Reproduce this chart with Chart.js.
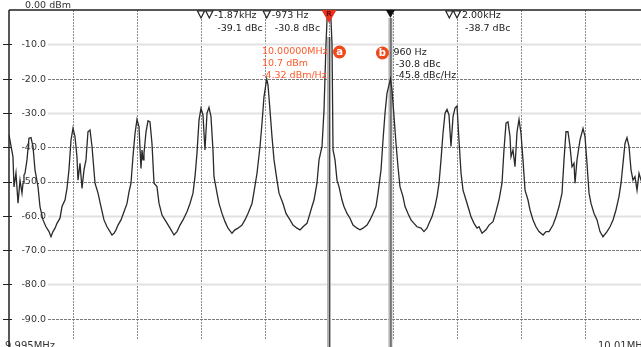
<!DOCTYPE html>
<html>
<head>
<meta charset="utf-8">
<script src="https://cdn.jsdelivr.net/npm/chart.js@4.4.1/dist/chart.umd.min.js"></script>
<style>
  html, body { margin: 0; padding: 0; background: #fff; overflow: hidden; }
  canvas { display: block; }
</style>
</head>
<body>
<canvas id="spectrum" width="650" height="356"></canvas>
<script>
// offset from the 10 MHz carrier (Hz) and trace level (dBm)
const freqOffsets = [
  -5000, -4938, -4922, -4891, -4859, -4828, -4797, -4781, -4766, -4750,
  -4719, -4688, -4656, -4625, -4594, -4547, -4516, -4469, -4422, -4375,
  -4344, -4313, -4281, -4250, -4203, -4172, -4125, -4094, -4063, -4031,
  -4000, -3969, -3938, -3922, -3891, -3859, -3828, -3797, -3766, -3734,
  -3703, -3656, -3609, -3563, -3516, -3469, -3422, -3391, -3359, -3328,
  -3297, -3250, -3203, -3156, -3125, -3094, -3063, -3031, -3000, -2969,
  -2938, -2922, -2906, -2891, -2859, -2828, -2797, -2766, -2734, -2688,
  -2656, -2609, -2563, -2484, -2422, -2375, -2328, -2281, -2219, -2172,
  -2125, -2094, -2063, -2031, -2000, -1969, -1938, -1906, -1875, -1844,
  -1813, -1797, -1750, -1719, -1672, -1625, -1578, -1516, -1469, -1422,
  -1359, -1313, -1266, -1203, -1172, -1125, -1078, -1047, -1016, -973,
  -953, -922, -891, -859, -813, -781, -719, -672, -609, -563,
  -500, -453, -406, -344, -313, -266, -234, -188, -156, -109,
  -78, -47, 0, 47, 63, 94, 125, 156, 203, 234,
  281, 328, 375, 438, 484, 531, 594, 641, 688, 734,
  766, 813, 844, 875, 906, 960, 984, 1016, 1047, 1078,
  1109, 1156, 1188, 1234, 1281, 1328, 1375, 1438, 1484, 1531,
  1563, 1609, 1656, 1688, 1719, 1750, 1781, 1813, 1844, 1875,
  1906, 1938, 1969, 2000, 2031, 2063, 2094, 2141, 2188, 2219,
  2266, 2313, 2344, 2391, 2453, 2500, 2563, 2609, 2656, 2703,
  2734, 2766, 2797, 2828, 2844, 2875, 2906, 2938, 2969, 3000,
  3031, 3063, 3109, 3141, 3188, 3234, 3281, 3344, 3391, 3438,
  3500, 3547, 3594, 3641, 3672, 3703, 3734, 3766, 3797, 3828,
  3844, 3875, 3922, 3969, 4000, 4031, 4063, 4094, 4141, 4188,
  4234, 4281, 4344, 4391, 4438, 4484, 4531, 4563, 4594, 4625,
  4656, 4688, 4719, 4750, 4781, 4813, 4844, 4875, 4938, 5000
];
const levels = [
  -36.4, -42.8, -51.6, -47.5, -56.3, -49.6, -53.4, -50.5, -48.1, -47.6,
  -43.7, -37.4, -37.2, -39.8, -46.6, -51.5, -57.3, -61.2, -63.2, -64.6,
  -66.1, -64.6, -63.6, -62.2, -60.7, -57.3, -55.4, -52.0, -46.6, -37.9,
  -34.5, -36.9, -42.8, -49.6, -44.7, -52.0, -46.6, -43.7, -35.5, -35.0,
  -39.8, -50.5, -53.4, -57.3, -61.2, -63.2, -64.6, -65.6, -65.1, -64.1,
  -62.7, -61.2, -58.8, -56.4, -53.0, -50.5, -42.8, -36.0, -31.9, -34.0,
  -46.2, -40.8, -43.7, -41.8, -35.5, -32.3, -32.6, -38.9, -50.5, -51.5,
  -56.4, -59.8, -61.2, -63.6, -65.6, -64.6, -62.7, -61.2, -58.8, -56.4,
  -53.4, -48.6, -41.8, -32.1, -28.7, -30.6, -40.8, -30.1, -28.4, -31.1,
  -40.8, -48.6, -53.4, -56.4, -59.3, -61.7, -63.6, -65.1, -64.1, -63.6,
  -62.7, -61.2, -59.3, -56.4, -53.0, -47.6, -39.8, -33.0, -25.3, -20.1,
  -21.9, -29.2, -36.9, -43.7, -49.6, -53.4, -56.4, -59.3, -61.2, -62.7,
  -63.6, -64.1, -63.2, -62.2, -60.3, -57.3, -55.4, -50.5, -43.7, -39.8,
  -29.2, -10.0, 10.7, -10.0, -40.8, -43.7, -49.6, -51.5, -55.4, -57.3,
  -59.3, -60.7, -62.7, -63.6, -64.1, -63.6, -62.7, -61.2, -59.3, -57.3,
  -53.4, -46.6, -37.9, -30.1, -24.3, -20.1, -23.3, -31.1, -38.9, -45.7,
  -51.5, -54.4, -57.3, -59.3, -61.2, -62.2, -63.2, -63.6, -64.6, -63.6,
  -62.2, -60.3, -57.3, -54.4, -50.5, -43.7, -36.0, -30.1, -29.0, -30.6,
  -39.8, -31.1, -28.6, -28.0, -37.9, -47.6, -52.5, -55.4, -58.3, -60.3,
  -62.2, -63.6, -63.2, -65.1, -64.1, -62.7, -61.7, -58.8, -55.4, -50.5,
  -40.8, -33.0, -32.6, -36.9, -42.8, -40.8, -45.7, -35.5, -31.9, -36.0,
  -43.7, -52.5, -55.4, -58.3, -61.2, -63.2, -64.6, -65.6, -64.6, -64.6,
  -62.7, -60.3, -57.3, -53.4, -43.7, -35.5, -35.5, -39.8, -45.7, -44.7,
  -50.5, -43.7, -37.9, -34.5, -36.9, -44.7, -53.4, -56.4, -59.3, -61.2,
  -64.6, -66.1, -64.6, -63.2, -61.2, -58.3, -54.4, -50.5, -44.7, -38.9,
  -37.2, -39.8, -46.6, -49.6, -48.6, -52.5, -47.6, -49.6, -53.0, -50.0
];

const levelTicks = [-10, -20, -30, -40, -50, -60, -70, -80, -90];
const refLevelLabel = '0.00 dBm';
const startLabel = '9.995MHz';
const stopLabel = '10.01MHz';

// delta markers (hollow triangles along the top)
const deltaFreqs = [-2000, -1870, -973, 1880, 2000];
const deltaLines = [
  [],
  ['-1.87kHz', '-39.1 dBc'],
  ['-973 Hz', '-30.8 dBc'],
  [],
  ['2.00kHz', '-38.7 dBc']
];

// reference marker (a) on the carrier, normal marker (b) on the sideband
const refMarkerFreq = 0;
const refMarkerLines = ['10.00000MHz', '10.7 dBm', '-4.32 dBm/Hz'];
const sideMarkerFreq = 960;
const sideMarkerLines = ['960 Hz', '-30.8 dBc', '-45.8 dBc/Hz'];

const FONT = '"DejaVu Sans", Verdana, sans-serif';
const ORANGE = '#ff5a2a';

function markerBand(ctx, x, top, bottom) {
  ctx.fillStyle = '#b4b4b4';
  ctx.fillRect(x - 2, top, 4, bottom - top);
  ctx.strokeStyle = '#444';
  ctx.lineWidth = 1;
  ctx.beginPath();
  ctx.moveTo(x + 0.5, top);
  ctx.lineTo(x + 0.5, bottom);
  ctx.stroke();
}

function badge(ctx, x, y, letter) {
  ctx.fillStyle = '#f04a1c';
  ctx.beginPath();
  ctx.arc(x, y, 6.5, 0, Math.PI * 2);
  ctx.fill();
  ctx.fillStyle = '#fff';
  ctx.font = 'bold 10px ' + FONT;
  ctx.textAlign = 'center';
  ctx.textBaseline = 'middle';
  ctx.fillText(letter, x, y + 0.5);
}

const analyzerDecor = {
  id: 'analyzerDecor',
  beforeDatasetsDraw(chart) {
    const ctx = chart.ctx;
    const area = chart.chartArea;
    const xs = chart.scales.x;
    const ys = chart.scales.y;

    ctx.save();
    // vertical divisions, 1 kHz apart
    ctx.strokeStyle = '#8a8a8a';
    ctx.lineWidth = 1;
    ctx.setLineDash([2, 1]);
    for (let f = -4000; f <= 4000; f += 1000) {
      const x = Math.round(xs.getPixelForValue(f)) + 0.5;
      ctx.beginPath();
      ctx.moveTo(x, area.top);
      ctx.lineTo(x, 339);
      ctx.stroke();
    }

    // horizontal divisions, alternating weights as rendered by the analyzer
    const dark = [-20, -40, -50, -70, -90];
    levelTicks.forEach(v => {
      const y = Math.round(ys.getPixelForValue(v)) + 0.5;
      if (dark.includes(v)) {
        ctx.strokeStyle = '#7a7a7a';
        ctx.lineWidth = 1;
        ctx.setLineDash([3, 1]);
      } else {
        ctx.strokeStyle = '#e2e2e2';
        ctx.lineWidth = 2;
        ctx.setLineDash([]);
      }
      ctx.beginPath();
      ctx.moveTo(area.left + 39, y);
      ctx.lineTo(area.right, y);
      ctx.stroke();
    });
    ctx.setLineDash([]);

    // marker lines
    markerBand(ctx, xs.getPixelForValue(refMarkerFreq), area.top + 27, area.bottom);
    markerBand(ctx, xs.getPixelForValue(sideMarkerFreq), area.top + 8, area.bottom);

    // level labels
    ctx.fillStyle = '#333';
    ctx.font = '9.5px ' + FONT;
    ctx.textAlign = 'right';
    ctx.textBaseline = 'middle';
    levelTicks.forEach(v => {
      ctx.fillText(v.toFixed(1), area.left + 37, ys.getPixelForValue(v) + 0.5);
    });
    ctx.textAlign = 'left';
    ctx.fillText(refLevelLabel, area.left + 16, area.top - 4);

    // span labels
    ctx.font = '10px ' + FONT;
    ctx.textBaseline = 'top';
    ctx.fillText(startLabel, 5, 341);
    ctx.fillText(stopLabel, 598, 341);
    ctx.restore();
  },
  afterDatasetsDraw(chart) {
    const ctx = chart.ctx;
    const area = chart.chartArea;
    const xs = chart.scales.x;
    const ys = chart.scales.y;
    const top = area.top;

    ctx.save();
    // frame: top edge and left axis with small level ticks
    ctx.strokeStyle = '#222';
    ctx.lineWidth = 1.5;
    ctx.beginPath();
    ctx.moveTo(area.left, top);
    ctx.lineTo(area.right, top);
    ctx.moveTo(area.left, top);
    ctx.lineTo(area.left, area.bottom);
    ctx.stroke();
    ctx.lineWidth = 1;
    levelTicks.forEach(v => {
      const y = Math.round(ys.getPixelForValue(v)) + 0.5;
      ctx.beginPath();
      ctx.moveTo(area.left - 6, y);
      ctx.lineTo(area.left + 3, y);
      ctx.stroke();
    });

    // delta markers
    ctx.font = '9.5px ' + FONT;
    ctx.textAlign = 'left';
    ctx.textBaseline = 'middle';
    deltaFreqs.forEach((f, i) => {
      const x = xs.getPixelForValue(f);
      ctx.fillStyle = '#fff';
      ctx.strokeStyle = '#222';
      ctx.lineWidth = 1.2;
      ctx.beginPath();
      ctx.moveTo(x - 3.5, top + 1);
      ctx.lineTo(x + 3.5, top + 1);
      ctx.lineTo(x, top + 8);
      ctx.closePath();
      ctx.fill();
      ctx.stroke();
      ctx.fillStyle = '#222';
      deltaLines[i].forEach((t, k) => {
        ctx.fillText(t, x + 5 + k * 3, top + 6 + k * 13);
      });
    });

    // reference marker
    const xa = xs.getPixelForValue(refMarkerFreq);
    ctx.fillStyle = '#e8321c';
    ctx.beginPath();
    ctx.moveTo(xa - 7.5, top);
    ctx.lineTo(xa + 7.5, top);
    ctx.lineTo(xa, top + 13);
    ctx.closePath();
    ctx.fill();
    ctx.fillStyle = '#6a0a00';
    ctx.font = 'bold 7px ' + FONT;
    ctx.textAlign = 'center';
    ctx.fillText('R', xa, top + 4);

    // normal marker
    const xb = xs.getPixelForValue(sideMarkerFreq);
    ctx.fillStyle = '#111';
    ctx.beginPath();
    ctx.moveTo(xb - 4.5, top);
    ctx.lineTo(xb + 4.5, top);
    ctx.lineTo(xb, top + 8);
    ctx.closePath();
    ctx.fill();

    // marker readouts
    ctx.font = '9.5px ' + FONT;
    ctx.textAlign = 'left';
    ctx.fillStyle = ORANGE;
    refMarkerLines.forEach((t, k) => ctx.fillText(t, xa - 67, top + 42 + k * 12));
    ctx.fillStyle = '#222';
    sideMarkerLines.forEach((t, k) => ctx.fillText(t, xb + 3 + (k ? 2 : 0), top + 43 + k * 11.5));
    badge(ctx, xa + 10.5, top + 42, 'a');
    badge(ctx, xb - 8, top + 43, 'b');
    ctx.restore();
  }
};

new Chart(document.getElementById('spectrum'), {
  type: 'line',
  data: {
    datasets: [{
      data: freqOffsets.map((f, i) => ({ x: f, y: levels[i] })),
      borderColor: '#2a2a2a',
      borderWidth: 1.3,
      pointRadius: 0,
      tension: 0,
      fill: false
    }]
  },
  options: {
    responsive: false,
    animation: false,
    layout: { padding: { left: 9, top: 10, right: 1, bottom: 3 } },
    plugins: { legend: { display: false }, tooltip: { enabled: false } },
    scales: {
      x: { type: 'linear', min: -5000, max: 5000, display: false },
      y: { min: -100, max: 0, display: false }
    }
  },
  plugins: [analyzerDecor]
});
</script>
</body>
</html>
